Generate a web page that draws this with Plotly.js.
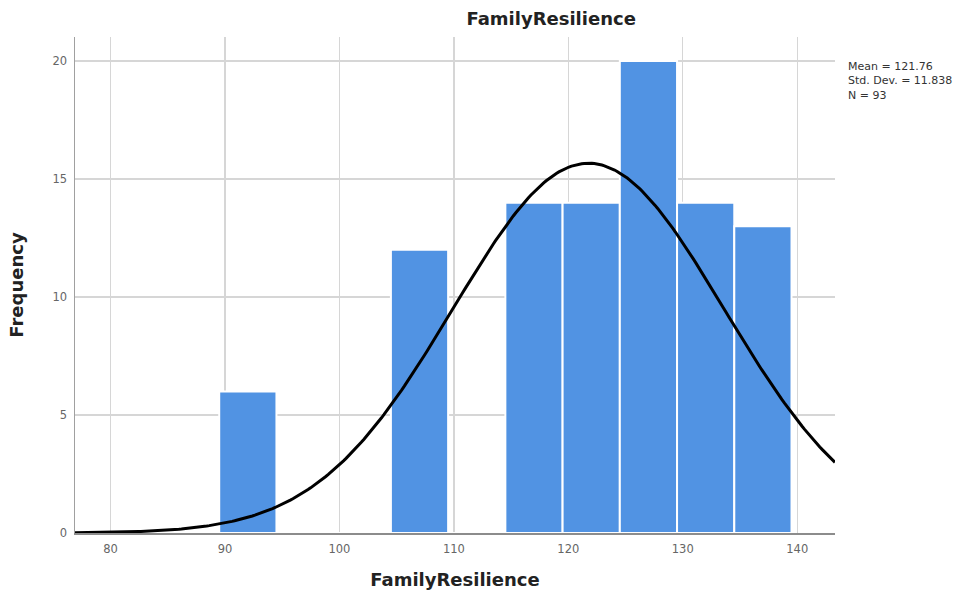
<!DOCTYPE html>
<html>
<head>
<meta charset="utf-8">
<script src="https://cdn.plot.ly/plotly-3.0.1.min.js"></script>
<style>html,body{margin:0;padding:0;background:#fff;}#chart{width:979px;height:592px;}</style>
</head>
<body>
<div id="chart"></div>
<script>
// Histogram bins (centers) and frequencies
const binCenters = [92, 97, 102, 107, 112, 117, 122, 127, 132, 137];
const frequencies = [6, 0, 0, 12, 0, 14, 14, 20, 14, 13];
const binWidth = 5;
// Summary statistics shown in the chart
const meanValue = 121.76;
const stdDev = 11.838;
const nCount = 93;
const xTicks = [80, 90, 100, 110, 120, 130, 140];
const yTicks = [0, 5, 10, 15, 20];
const statLines = ['Mean = ' + meanValue.toFixed(2), 'Std. Dev. = ' + stdDev.toFixed(3), 'N = ' + nCount];

// Normal curve defined by the chart's mean, SD and N
const xMin = 76.9, xMax = 143.3;
const curveX = [], curveY = [];
for (let i = 0; i <= 300; i++) {
  const x = xMin + (xMax - xMin) * i / 300;
  const z = (x - meanValue) / stdDev;
  curveX.push(x);
  curveY.push(nCount * binWidth * Math.exp(-0.5 * z * z) / (stdDev * Math.sqrt(2 * Math.PI)));
}

const titleFont = {family: 'DejaVu Sans, sans-serif', size: 18, color: '#222'};
const tickFont = {family: 'DejaVu Sans, sans-serif', size: 11.5, color: '#666'};

const data = [
  {
    type: 'bar', x: binCenters, y: frequencies, width: binWidth,
    marker: {color: '#5193e3', line: {color: '#ffffff', width: 2}},
    hoverinfo: 'x+y', showlegend: false
  },
  {
    type: 'scatter', mode: 'lines', x: curveX, y: curveY,
    line: {color: '#000000', width: 3}, hoverinfo: 'skip', showlegend: false
  }
];

const layout = {
  width: 979, height: 592,
  margin: {l: 75, r: 144, t: 37, b: 59},
  paper_bgcolor: '#ffffff', plot_bgcolor: '#ffffff',
  font: {family: 'DejaVu Sans, sans-serif', color: '#333'},
  title: {
    text: '<b>FamilyResilience</b>', font: titleFont,
    x: 0.563, xanchor: 'center', y: 0.968, yanchor: 'middle'
  },
  xaxis: {
    range: [xMin, xMax], tickvals: xTicks, ticktext: xTicks.map(String),
    showgrid: true, gridcolor: '#d6d6d6', gridwidth: 1.3,
    showline: true, linecolor: '#8c8c8c', linewidth: 1.5,
    zeroline: false, ticks: 'outside', ticklen: 5, tickcolor: 'rgba(0,0,0,0)',
    tickfont: tickFont,
    title: {text: '<b>FamilyResilience</b>', font: titleFont, standoff: 18}
  },
  yaxis: {
    range: [0, 21.02], tickvals: yTicks, ticktext: yTicks.map(String),
    showgrid: true, gridcolor: '#d6d6d6', gridwidth: 1.3,
    showline: true, linecolor: '#a0a0a0', linewidth: 1.5,
    zeroline: false, ticks: 'outside', ticklen: 4, tickcolor: 'rgba(0,0,0,0)',
    tickfont: tickFont,
    title: {text: '<b>Frequency</b>', font: titleFont, standoff: 24}
  },
  annotations: [{
    xref: 'paper', yref: 'paper', x: 1.0145, y: 0.958, xanchor: 'left', yanchor: 'top',
    align: 'left', showarrow: false, text: statLines.join('<br>'),
    font: {family: 'DejaVu Sans, sans-serif', size: 11, color: '#333'}
  }],
  bargap: 0
};

Plotly.newPlot('chart', data, layout, {displayModeBar: false, staticPlot: true});
</script>
</body>
</html>
